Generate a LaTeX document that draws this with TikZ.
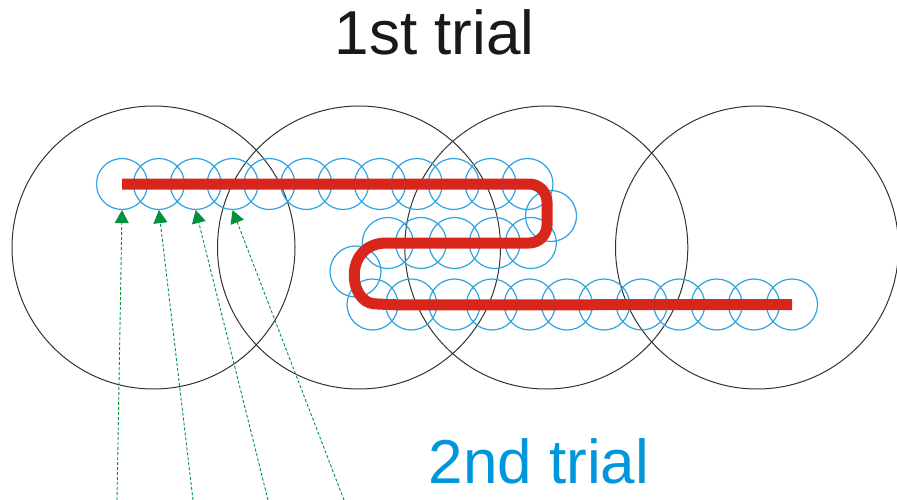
\documentclass[tikz,border=0pt]{standalone}
\usepackage{fontspec}
\setmainfont{Liberation Sans}
\usepackage{tikz}
\usetikzlibrary{arrows.meta}
\definecolor{pathred}{RGB}{217,38,28}
\definecolor{ballblue}{RGB}{45,163,224}
\definecolor{textblue}{RGB}{0,150,220}
\definecolor{hintgreen}{RGB}{0,146,63}
\definecolor{rangegray}{RGB}{50,50,50}
\tikzstyle{sensor}=[circle,draw=rangegray,line width=1pt,minimum size=283pt,inner sep=0pt]
\tikzstyle{bubble}=[circle,draw=ballblue,line width=1.2pt,minimum size=51pt,inner sep=0pt]
\tikzstyle{trail} = [draw=pathred,line width=11pt,rounded corners=18pt]
\tikzstyle{hint} = [draw=hintgreen,line width=0.9pt,dash pattern=on 3pt off 2pt,-{Triangle[length=13pt,width=14pt,fill=hintgreen]}]
\tikzstyle{caption} = [inner sep=0pt,anchor=base,font=\fontsize{62}{62}\selectfont]

\begin{document}
\begin{tikzpicture}[x=1pt,y=-1pt]

    \useasboundingbox (0,0) rectangle (897,500);

    % sensing ranges of the 1st trial
    \foreach \x/\name in {153.5/r1, 359/r2, 546.3/r3, 757/r4}
        \node[sensor] (\name) at (\x, 247.5) {};

    % sensing ranges of the 2nd trial
    \foreach \x/\y/\name in {122/184/a1, 158.9/184/a2, 195.7/184/a3, 232.6/184/a4,
                             269.4/184/a5, 306.3/184/a6, 343.2/184/a7, 380/184/a8,
                             416.9/184/a9, 453.7/184/a10, 490.6/184/a11, 527.5/184/a12,
                             551/216/b1,
                             530.8/243/b2, 494.7/243/b3, 454.5/243/b4, 421/243/b5, 387.8/243/b6,
                             355.5/271.5/b7,
                             372.5/304.5/c1, 411.3/304.5/c2, 454.5/304.5/c3, 492/304.5/c4,
                             529.7/304.5/c5, 567/304.5/c6, 604/304.5/c7, 641.7/304.5/c8,
                             679.3/304.5/c9, 716.7/304.5/c10, 754/304.5/c11, 792/304.5/c12}
        \node[bubble] (\name) at (\x, \y) {};

    % walked path
    \draw[trail] (a1.center) -- (547,184) -- (547,243) -- (405,243)
        .. controls (343,243) and (348,302) .. (392,305) -- (c12.center);

    % first steps
    \foreach \x/\dest [count=\n] in {117/a1, 193/a2, 268/a3, 344/a4}
    {
        \coordinate (g\n) at (\x, 500);
        \draw[hint] (g\n) -- (\dest.south);
    }

    \node[caption, black!90] (first) at (434.5, 55) {1st trial};
    \node[caption, textblue] (second) at (539, 483.3) {2nd trial};

\end{tikzpicture}
\end{document}
